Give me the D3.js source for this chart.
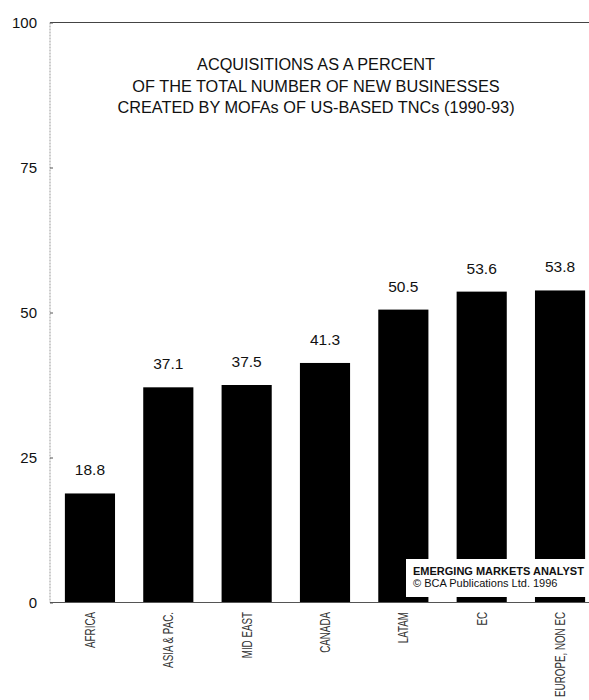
<!DOCTYPE html>
<html>
<head>
<meta charset="utf-8">
<script src="https://cdn.jsdelivr.net/npm/d3@7"></script>
<style>
  html, body { margin: 0; padding: 0; background: #fff; }
  svg { display: block; }
  text { font-family: "Liberation Sans", Arial, sans-serif; fill: #111; }
</style>
</head>
<body>
<script>
// Acquisitions share of new businesses by region
const regions = ["AFRICA", "ASIA & PAC.", "MID EAST", "CANADA", "LATAM", "EC", "EUROPE, NON EC"];
const shares = [18.8, 37.1, 37.5, 41.3, 50.5, 53.6, 53.8];
const yTicks = [0, 25, 50, 75, 100];
const titleLines = [
  "ACQUISITIONS AS A PERCENT",
  "OF THE TOTAL NUMBER OF NEW BUSINESSES",
  "CREATED BY MOFAs OF US-BASED TNCs (1990-93)"
];
const sourceLines = ["EMERGING MARKETS ANALYST", "\u00A9 BCA Publications Ltd. 1996"];

const W = 589, H = 700;
const plotLeft = 50, plotTop = 22.5, plotBottom = 602.5;

const svg = d3.select("body").append("svg")
  .attr("width", W).attr("height", H);

const x = d3.scaleBand()
  .domain(regions)
  .range([plotLeft, 600])
  .paddingInner(0.36)
  .paddingOuter(0.19);

const y = d3.scaleLinear().domain([0, 100]).range([plotBottom, plotTop]);

// frame: top rule, dotted value axis
svg.append("line")
  .attr("x1", plotLeft).attr("x2", W).attr("y1", y(100)).attr("y2", y(100))
  .attr("stroke", "#444").attr("stroke-width", 1.2);
svg.append("line")
  .attr("x1", plotLeft).attr("x2", plotLeft).attr("y1", y(100)).attr("y2", y(0))
  .attr("stroke", "#999").attr("stroke-width", 1).attr("stroke-dasharray", "2,1");

// value axis ticks and labels
const yAxis = d3.axisRight(y).tickValues(yTicks).tickSize(3).tickFormat("");
const yg = svg.append("g").attr("transform", `translate(${plotLeft},0)`).call(yAxis);
yg.select(".domain").remove();
yg.selectAll(".tick line").attr("stroke", "#555");

svg.append("g").selectAll("text")
  .data(yTicks)
  .join("text")
  .attr("x", 37)
  .attr("y", d => y(d))
  .attr("dy", "0.36em")
  .attr("text-anchor", "end")
  .style("font-size", "15px")
  .text(d => d);

// title
svg.append("g").selectAll("text")
  .data(titleLines)
  .join("text")
  .attr("x", 316)
  .attr("y", (d, i) => 70 + i * 21.5)
  .attr("text-anchor", "middle")
  .style("font-size", "16.3px")
  .text(d => d);

// bars
svg.append("g").selectAll("rect")
  .data(shares)
  .join("rect")
  .attr("x", (d, i) => x(regions[i]))
  .attr("width", x.bandwidth())
  .attr("y", d => y(d))
  .attr("height", d => y(0) - y(d))
  .attr("fill", "#000");

// value labels above bars
svg.append("g").selectAll("text")
  .data(shares)
  .join("text")
  .attr("x", (d, i) => x(regions[i]) + x.bandwidth() / 2)
  .attr("y", d => y(d) - 18)
  .attr("text-anchor", "middle")
  .style("font-size", "15.5px")
  .text(d => d.toFixed(1));

// source box
const box = svg.append("g");
box.append("rect")
  .attr("x", 406).attr("y", 559).attr("width", W - 406).attr("height", 38)
  .attr("fill", "#fff");
box.append("text")
  .attr("x", 413).attr("y", 575)
  .style("font-size", "11px").style("font-weight", "bold")
  .text(sourceLines[0]);
box.append("text")
  .attr("x", 413).attr("y", 587)
  .style("font-size", "11px")
  .text(sourceLines[1]);

// baseline
svg.append("line")
  .attr("x1", plotLeft).attr("x2", W).attr("y1", y(0)).attr("y2", y(0))
  .attr("stroke", "#555").attr("stroke-width", 1.2);

// category axis (labels drawn separately, rotated and condensed)
const xAxis = d3.axisBottom(x).tickSize(0).tickFormat("");
svg.append("g").attr("transform", `translate(0,${y(0)})`).call(xAxis)
  .select(".domain").remove();

svg.append("g").selectAll("text")
  .data(regions)
  .join("text")
  .attr("transform", d => `translate(${x(d) + x.bandwidth() / 2},612) rotate(-90) scale(0.7,1)`)
  .attr("text-anchor", "end")
  .attr("dy", "0.36em")
  .style("font-size", "14px")
  .style("fill", "#333")
  .text(d => d);
</script>
</body>
</html>
